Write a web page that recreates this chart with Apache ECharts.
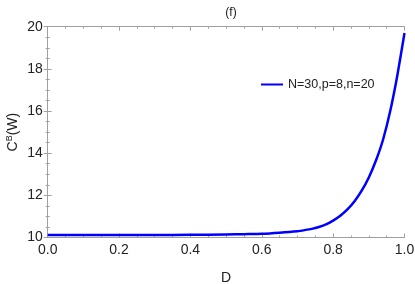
<!DOCTYPE html>
<html><head><meta charset="utf-8">
<script src="https://cdn.jsdelivr.net/npm/echarts@6/dist/echarts.min.js"></script>
<style>html,body{margin:0;padding:0;background:#fff}#c{width:415px;height:284px}</style>
</head><body><div id="c"></div>
<script>
const dValues = [0, 0.1, 0.2, 0.3, 0.4, 0.5, 0.55, 0.6, 0.65, 0.70, 0.72, 0.74, 0.76, 0.78, 0.80, 0.82, 0.84, 0.86, 0.88, 0.90, 0.92, 0.94, 0.96, 0.98, 1.00];
const cbValues = [10.12, 10.12, 10.12, 10.12, 10.13, 10.14, 10.16, 10.18, 10.23, 10.30, 10.35, 10.41, 10.50, 10.62, 10.80, 11.03, 11.33, 11.72, 12.22, 12.85, 13.65, 14.65, 16.0, 17.7, 19.7];
const seriesName = 'N=30,p=8,n=20';
const titleText = '(f)';
const xName = 'D';
const xTicks = [0, 0.2, 0.4, 0.6, 0.8, 1.0];
const yTicks = [10, 12, 14, 16, 18, 20];

const frame = '#a0a0a0';
const font = 'Liberation Sans, Arial, sans-serif';
const chart = echarts.init(document.getElementById('c'), null, {renderer: 'canvas'});
const axBase = {
  axisLine: {show: true, lineStyle: {color: frame, width: 1}},
  axisTick: {show: true, inside: true, length: 4, lineStyle: {color: frame}},
  minorTick: {show: true, splitNumber: 4, length: 2, lineStyle: {color: frame}},
  splitLine: {show: false}
};
chart.setOption({
  animation: false,
  title: {text: titleText, left: 226, top: 2, textAlign: 'center',
    textStyle: {fontFamily: font, fontSize: 12, fontWeight: 'normal', color: '#222'}},
  legend: {show: true, left: 256, top: 73, itemWidth: 22, itemHeight: 13, itemGap: 8,
    icon: 'path://M0,5L22,5L22,7L0,7Z',
    textStyle: {fontFamily: font, fontSize: 12.5, color: '#222'},
    data: [{name: seriesName}]},
  grid: {left: 47.7, right: 10.5, top: 26.7, bottom: 46.5, containLabel: false, outerBoundsMode: 'none'},
  xAxis: [
    Object.assign({type: 'value', min: xTicks[0], max: xTicks[xTicks.length-1], interval: 0.2,
      name: xName, nameLocation: 'middle', nameGap: 34, nameMoveOverlap: false,
      nameTextStyle: {fontFamily: font, fontSize: 14, color: '#222'},
      axisLabel: {fontFamily: font, fontSize: 14, color: '#222', margin: 6,
        formatter: v => v.toFixed(1)}}, axBase),
    Object.assign({type: 'value', position: 'top', min: 0, max: 1, interval: 0.2,
      axisLabel: {show: false}}, axBase)
  ],
  yAxis: [
    Object.assign({type: 'value', min: yTicks[0], max: yTicks[yTicks.length-1], interval: 2,
      name: 'C{sup|B}(W)', nameLocation: 'middle', nameGap: 27, nameRotate: 90, nameMoveOverlap: false,
      nameTextStyle: {fontFamily: font, fontSize: 14, color: '#222',
        rich: {sup: {fontFamily: font, fontSize: 9, color: '#222', verticalAlign: 'top', padding: [0,0,7,0]}}},
      axisLabel: {fontFamily: font, fontSize: 14, color: '#222', margin: 5}}, axBase),
    Object.assign({type: 'value', position: 'right', min: 10, max: 20, interval: 2,
      axisLabel: {show: false}}, axBase)
  ],
  series: [{
    name: seriesName, type: 'line', xAxisIndex: 0, yAxisIndex: 0,
    data: dValues.map((d, i) => [d, cbValues[i]]),
    smooth: 0.2, showSymbol: false, symbol: 'none',
    lineStyle: {color: '#0000ff', width: 2.5, join: 'round'}, itemStyle: {color: '#0000ff'}
  }]
});
</script></body></html>
